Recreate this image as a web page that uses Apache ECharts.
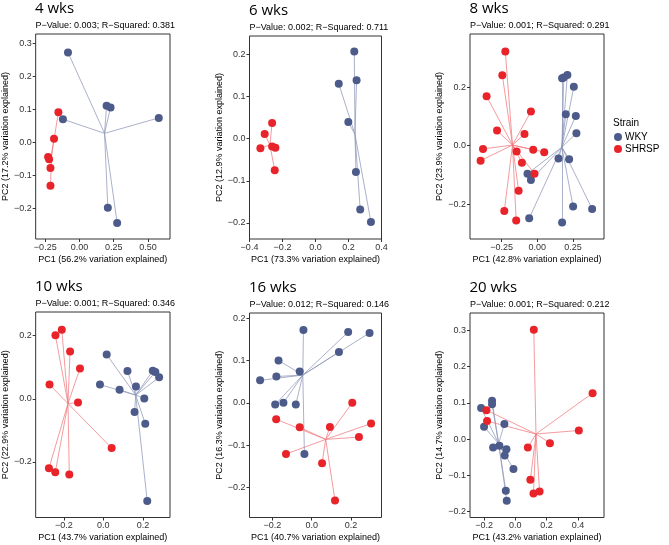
<!DOCTYPE html>
<html>
<head>
<meta charset="utf-8">
<script src="https://cdn.jsdelivr.net/npm/echarts@6/dist/echarts.min.js"></script>
<style>
html,body{margin:0;padding:0;background:#fff;}
#chart{width:669px;height:545px;}
</style>
</head>
<body>
<div id="chart"></div>
<script>
// ---- Data (PC1, PC2) ----
const titles = ['4 wks', '6 wks', '8 wks', '10 wks', '16 wks', '20 wks'];
const stats = [
  'P−Value: 0.003; R−Squared: 0.381',
  'P−Value: 0.002; R−Squared: 0.711',
  'P−Value: 0.001; R−Squared: 0.291',
  'P−Value: 0.001; R−Squared: 0.346',
  'P−Value: 0.012; R−Squared: 0.146',
  'P−Value: 0.001; R−Squared: 0.212'
];
const pc1Var = ['56.2', '73.3', '42.8', '43.7', '40.7', '43.2'];
const pc2Var = ['17.2', '12.9', '23.9', '22.9', '16.3', '14.7'];

const wky4 = [[-0.084,0.273],[0.198,0.111],[0.227,0.106],[-0.121,0.070],[0.579,0.074],[0.207,-0.199],[0.275,-0.245]];
const shrsp4 = [[-0.154,0.091],[-0.186,0.011],[-0.229,-0.045],[-0.222,-0.052],[-0.212,-0.078],[-0.212,-0.132]];

const wky6 = [[0.235,0.206],[0.249,0.138],[0.141,0.130],[0.199,0.039],[0.245,-0.079],[0.271,-0.168],[0.336,-0.198]];
const shrsp6 = [[-0.263,0.037],[-0.308,0.011],[-0.334,-0.023],[-0.263,-0.019],[-0.243,-0.022],[-0.247,-0.075]];

const wky8 = [[0.173,0.231],[0.185,0.233],[0.210,0.242],[0.255,0.202],[0.199,0.108],[0.269,0.102],[0.273,0.043],[0.148,-0.044],[0.222,-0.046],[-0.069,-0.096],[-0.045,-0.117],[0.250,-0.208],[0.383,-0.216],[-0.057,-0.248],[0.173,-0.263]];
const shrsp8 = [[-0.224,0.322],[-0.245,0.241],[-0.355,0.169],[-0.045,0.117],[-0.282,0.052],[-0.090,0.040],[-0.380,-0.011],[-0.029,-0.014],[0.048,-0.022],[-0.145,-0.020],[-0.397,-0.051],[-0.108,-0.058],[-0.020,-0.096],[-0.131,-0.154],[-0.231,-0.223],[-0.148,-0.256]];

const wky10 = [[0.017,0.140],[0.122,0.088],[-0.017,0.045],[0.082,0.029],[0.165,0.039],[0.250,0.089],[0.263,0.085],[0.282,0.068],[0.207,0.001],[0.158,-0.042],[0.212,-0.079],[0.222,-0.324]];
const shrsp10 = [[-0.210,0.219],[-0.242,0.201],[-0.168,0.150],[-0.118,0.096],[-0.272,0.045],[-0.128,-0.012],[0.042,-0.156],[-0.275,-0.220],[-0.243,-0.233],[-0.172,-0.240]];

const wky16 = [[-0.042,0.172],[0.186,0.167],[0.295,0.165],[0.139,0.120],[-0.169,0.100],[-0.061,0.074],[-0.180,0.062],[-0.263,0.053],[-0.186,-0.004],[-0.144,0.000],[-0.081,-0.004],[-0.037,-0.121]];
const shrsp16 = [[0.207,0.000],[0.303,-0.049],[-0.181,-0.039],[-0.061,-0.058],[0.093,-0.057],[0.241,-0.081],[-0.131,-0.121],[0.053,-0.143],[0.119,-0.231]];

const wky20 = [[-0.149,0.106],[-0.149,0.096],[-0.219,0.086],[-0.070,0.042],[-0.200,0.034],[-0.102,-0.018],[-0.142,-0.023],[-0.057,-0.028],[-0.068,-0.045],[-0.012,-0.082],[-0.061,-0.142],[-0.055,-0.170]];
const shrsp20 = [[0.118,0.302],[0.494,0.127],[0.406,0.024],[0.221,-0.011],[0.080,-0.023],[-0.185,0.080],[-0.181,0.050],[0.096,-0.112],[0.116,-0.150],[0.155,-0.144]];

const wkyData = [wky4, wky6, wky8, wky10, wky16, wky20];
const shrspData = [shrsp4, shrsp6, shrsp8, shrsp10, shrsp16, shrsp20];

const xTicks = [[-0.25,0,0.25,0.5],[-0.4,-0.2,0,0.2,0.4],[-0.25,0,0.25],[-0.2,0,0.2],[-0.2,0,0.2],[-0.2,0,0.2,0.4]];
const yTicks = [[-0.2,-0.1,0,0.1,0.2,0.3],[-0.2,-0.1,0,0.1,0.2],[-0.2,0,0.2],[-0.2,0,0.2],[-0.2,-0.1,0,0.1,0.2],[-0.2,-0.1,0,0.1,0.2,0.3]];
const xDecimals = [2,1,2,1,1,1];
const yDecimals = [1,1,1,1,1,1];

// ---- Layout & styles ----
const grids = [
  {left:35.5, top:34, width:134.5, height:205},
  {left:249.5, top:36, width:132, height:203},
  {left:470, top:34, width:134, height:205},
  {left:35.5, top:312, width:134.5, height:205.5},
  {left:249.5, top:313, width:132, height:204.5},
  {left:470, top:313, width:134, height:204.5}
];
const xRange = [[-0.32,0.661],[-0.40,0.40],[-0.471,0.466],[-0.342,0.337],[-0.317,0.356],[-0.290,0.567]];
const yRange = [[-0.294,0.329],[-0.238,0.243],[-0.319,0.382],[-0.376,0.275],[-0.271,0.212],[-0.216,0.348]];

const BLUE = '#4C5B8A', RED = '#E8242A';
const BLUE_LINE = '#8E97B8', RED_LINE = '#F07A7D';
const FONT = '"Liberation Sans", Arial, sans-serif';

function fmt(v, d){ return Number(v).toFixed(d).replace('-', '−'); }
function mean(pts){
  let sx=0, sy=0; pts.forEach(p=>{sx+=p[0]; sy+=p[1];});
  return [sx/pts.length, sy/pts.length];
}

const xAxes = [], yAxes = [], series = [], graphics = [];
grids.forEach((g, i) => {
  xAxes.push({
    gridIndex:i, type:'value', min:xRange[i][0], max:xRange[i][1],
    name:'PC1 (' + pc1Var[i] + '% variation explained)',
    nameLocation:'middle', nameGap:16,
    nameTextStyle:{fontFamily:FONT, fontSize:9, color:'#000'},
    axisLine:{show:false, onZero:false},
    axisTick:{show:true, length:3, lineStyle:{color:'#333', width:1}, customValues:xTicks[i]},
    axisLabel:{fontFamily:FONT, fontSize:9, color:'#333', margin:4, customValues:xTicks[i],
      formatter:function(v){ return fmt(v, xDecimals[i]); }},
    splitLine:{show:false}
  });
  yAxes.push({
    gridIndex:i, type:'value', min:yRange[i][0], max:yRange[i][1],
    name:'PC2 (' + pc2Var[i] + '% variation explained)',
    nameLocation:'middle', nameGap:17, nameRotate:90,
    nameTextStyle:{fontFamily:FONT, fontSize:9, color:'#000'},
    axisLine:{show:false, onZero:false},
    axisTick:{show:true, length:3, lineStyle:{color:'#333', width:1}, customValues:yTicks[i]},
    axisLabel:{fontFamily:FONT, fontSize:9, color:'#333', margin:4, customValues:yTicks[i],
      formatter:function(v){ return fmt(v, yDecimals[i]); }},
    splitLine:{show:false}
  });

  const groups = [
    {name:'WKY', pts:wkyData[i], color:BLUE, line:BLUE_LINE},
    {name:'SHRSP', pts:shrspData[i], color:RED, line:RED_LINE}
  ];
  groups.forEach(gr => {
    const c = mean(gr.pts);
    series.push({
      name:gr.name + ' spokes', type:'lines', coordinateSystem:'cartesian2d',
      xAxisIndex:i, yAxisIndex:i, silent:true, z:1,
      lineStyle:{color:gr.line, width:1, opacity:0.75},
      data: gr.pts.map(p => ({coords:[c, p]}))
    });
  });
  groups.forEach(gr => {
    series.push({
      name:gr.name, type:'scatter', xAxisIndex:i, yAxisIndex:i,
      symbol:'circle', symbolSize:8, z:3,
      itemStyle:{color:gr.color, opacity:1},
      data: gr.pts
    });
  });

  graphics.push({type:'text', left:g.left - 0.5, top:g.top - 33,
    style:{text:titles[i], font:'15px "Open Sans", sans-serif', fill:'#000'}});
  graphics.push({type:'text', left:g.left, top:g.top - 13,
    style:{text:stats[i], font:'9px ' + FONT, fill:'#000'}});
});

graphics.push({type:'text', left:613, top:118,
  style:{text:'Strain', font:'10px ' + FONT, fill:'#000'}});

const option = {
  backgroundColor:'#fff',
  animation:false,
  grid: grids.map(g => Object.assign({show:true, borderColor:'#333', borderWidth:1, backgroundColor:'transparent', containLabel:false}, g)),
  xAxis:xAxes,
  yAxis:yAxes,
  legend:{
    data:['WKY','SHRSP'], orient:'vertical', left:614, top:132, padding:0,
    icon:'circle', itemWidth:8, itemHeight:8, itemGap:2,
    textStyle:{fontFamily:FONT, fontSize:10, color:'#000', padding:[0,0,0,-2]}
  },
  graphic:graphics,
  series:series
};

const chart = echarts.init(document.getElementById('chart'), null, {renderer:'canvas'});
chart.setOption(option);
</script>
</body>
</html>
